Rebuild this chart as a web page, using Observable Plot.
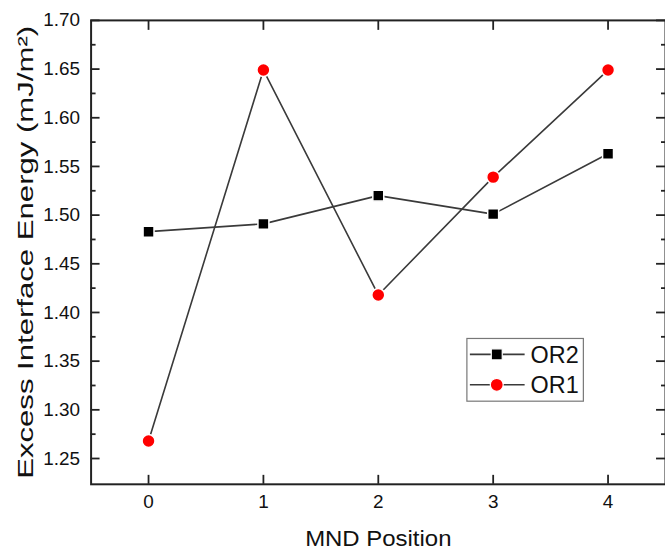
<!DOCTYPE html>
<html>
<head>
<meta charset="utf-8">
<script src="https://cdn.jsdelivr.net/npm/d3@7"></script>
<script src="https://cdn.jsdelivr.net/npm/@observablehq/plot@0.6"></script>
<style>
  html, body { margin: 0; padding: 0; background: #fff; overflow: hidden; }
  #chart { width: 665px; height: 551px; overflow: hidden; position: relative; }
  svg { font-family: "Liberation Sans", Arial, sans-serif; }
</style>
</head>
<body>
<div id="chart"></div>
<script>
const positions = [0, 1, 2, 3, 4];
const or2Values = [1.483, 1.491, 1.520, 1.501, 1.563];
const or1Values = [1.268, 1.649, 1.418, 1.539, 1.649];
const seriesNames = ["OR2", "OR1"];
const yMajorTicks = [1.25, 1.30, 1.35, 1.40, 1.45, 1.50, 1.55, 1.60, 1.65, 1.70];
const yMinorTicks = [1.275, 1.325, 1.375, 1.425, 1.475, 1.525, 1.575, 1.625, 1.675];
const xTicks = [0, 1, 2, 3, 4];
const xTitle = "MND Position";
const yTitle = "Excess Interface Energy (mJ/m²)";

const or2 = positions.map((p, i) => ({x: p, y: or2Values[i], s: seriesNames[0]}));
const or1 = positions.map((p, i) => ({x: p, y: or1Values[i], s: seriesNames[1]}));

const lineColor = "#3a3a3a";
const axisColor = "#222";
const tickFont = 19;
const titleFont = 23;

const plot = Plot.plot({
  width: 668,
  height: 551,
  marginLeft: 91,
  marginRight: 0,
  marginTop: 20,
  marginBottom: 65,
  style: {fontFamily: "Liberation Sans, Arial, sans-serif", background: "#fff", overflow: "visible"},
  x: {domain: [-0.5, 4.5], label: null},
  y: {domain: [1.2235, 1.70], label: null},
  marks: [
    Plot.frame({stroke: axisColor, strokeWidth: 2}),
    // left axis
    Plot.axisY({anchor: "left", ticks: yMajorTicks, tickSize: 9, dx: 9, text: null, stroke: axisColor, strokeWidth: 1.8, label: null}),
    Plot.axisY({anchor: "left", ticks: yMinorTicks, tickSize: 5, dx: 5, text: null, stroke: axisColor, strokeWidth: 1.8, label: null}),
    Plot.axisY({anchor: "left", ticks: yMajorTicks, tickSize: 0, tickPadding: 11, tickFormat: d3.format(".2f"), fontSize: tickFont, fill: "#111", label: null}),
    // right axis
    Plot.axisY({anchor: "right", ticks: yMajorTicks, tickSize: 10, dx: -10, text: null, stroke: axisColor, strokeWidth: 1.8, label: null}),
    Plot.axisY({anchor: "right", ticks: yMinorTicks, tickSize: 5, dx: -5, text: null, stroke: axisColor, strokeWidth: 1.8, label: null}),
    // bottom axis
    Plot.axisX({anchor: "bottom", ticks: xTicks, tickSize: 9, dy: -9, text: null, stroke: axisColor, strokeWidth: 1.8, label: null}),
    Plot.axisX({anchor: "bottom", ticks: xTicks, tickSize: 0, tickPadding: 10, tickFormat: d3.format("d"), fontSize: tickFont, fill: "#111", label: null}),
    // top axis
    Plot.axisX({anchor: "top", ticks: xTicks, tickSize: 9, dy: 9, text: null, stroke: axisColor, strokeWidth: 1.8, label: null}),
    // data
    Plot.line(or2, {x: "x", y: "y", stroke: lineColor, strokeWidth: 1.6}),
    Plot.line(or1, {x: "x", y: "y", stroke: lineColor, strokeWidth: 1.6}),
    Plot.dot(or2, {x: "x", y: "y", symbol: "square", r: 6.2, fill: "#000", stroke: "#fff", strokeWidth: 1.5}),
    Plot.dot(or1, {x: "x", y: "y", symbol: "circle", r: 6.5, fill: "#ff0000", stroke: "#fff", strokeWidth: 1.5}),
    // axis titles
    Plot.text([yTitle], {text: d => d, frameAnchor: "left", textAnchor: "middle", rotate: -90, dx: -66, fontSize: titleFont, fill: "#111", className: "ytitle"}),
    Plot.text([xTitle], {text: d => d, frameAnchor: "bottom", textAnchor: "middle", dy: 62, fontSize: titleFont, fill: "#111", className: "xtitle"})
  ]
});

document.getElementById("chart").appendChild(plot);

// stretch titles to the reference's proportions
const svg = d3.select(plot);
svg.selectAll(".ytitle text").attr("textLength", 455).attr("lengthAdjust", "spacingAndGlyphs");
svg.selectAll(".xtitle text").attr("textLength", 147).attr("lengthAdjust", "spacingAndGlyphs");

// legend
const lg = svg.append("g").attr("font-family", "Liberation Sans, Arial, sans-serif").attr("text-anchor", "start");
lg.append("rect").attr("x", 469).attr("y", 340).attr("width", 117).attr("height", 63)
  .attr("fill", "#fff").attr("stroke", "#777").attr("stroke-width", 1.2);
seriesNames.forEach((name, i) => {
  const cy = 356 + i * 30.5;
  lg.append("line").attr("x1", 472).attr("x2", 527).attr("y1", cy).attr("y2", cy)
    .attr("stroke", lineColor).attr("stroke-width", 1.6);
  if (i === 0) {
    lg.append("rect").attr("x", 499 - 5.5).attr("y", cy - 5.5).attr("width", 11).attr("height", 11)
      .attr("fill", "#000").attr("stroke", "#fff").attr("stroke-width", 1.2);
  } else {
    lg.append("circle").attr("cx", 499).attr("cy", cy).attr("r", 6.5)
      .attr("fill", "#ff0000").attr("stroke", "#fff").attr("stroke-width", 1.2);
  }
  lg.append("text").attr("x", 533).attr("y", cy).attr("dy", "0.36em")
    .attr("font-size", 23.5).attr("fill", "#111").text(name);
});
</script>
</body>
</html>
